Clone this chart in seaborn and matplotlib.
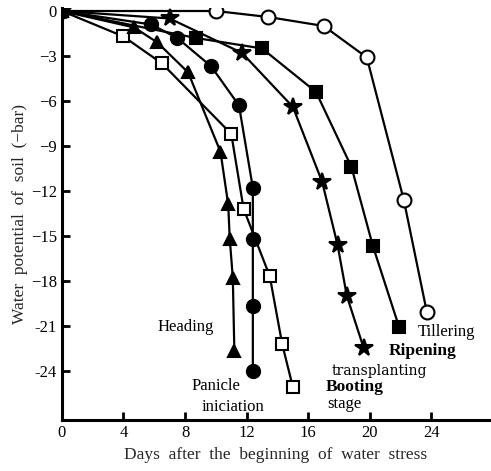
import matplotlib
matplotlib.use("Agg")
import matplotlib.pyplot as plt
import seaborn as sns
import pandas as pd

sns.set_theme(style="ticks")
plt.rcParams['font.family'] = ['Liberation Serif', 'DejaVu Serif']

# Data (days, water potential in bar)
tillering_x = [0, 10, 13.4, 17, 19.8, 22.2, 23.7]
tillering_y = [0, 0, -0.4, -1.0, -3.1, -12.6, -20.1]
ripening_x = [0, 8.7, 13, 16.5, 18.8, 20.2, 21.9]
ripening_y = [0, -1.8, -2.5, -5.4, -10.4, -15.7, -21.1]
transplant_x = [0, 7, 11.7, 15, 16.9, 17.9, 18.5, 19.6]
transplant_y = [0, -0.5, -2.8, -6.4, -11.4, -15.6, -19.0, -22.5]
booting_x = [0, 4, 6.5, 11, 11.8, 13.5, 14.3, 15]
booting_y = [0, -1.7, -3.5, -8.2, -13.2, -17.7, -22.2, -25.1]
panicle_x = [0, 5.8, 7.5, 9.7, 11.5, 12.4, 12.4, 12.4, 12.4]
panicle_y = [0, -0.9, -1.8, -3.7, -6.3, -11.8, -15.2, -19.7, -24.0]
heading_x = [0, 4.7, 6.2, 8.2, 10.3, 10.8, 10.9, 11.1, 11.2]
heading_y = [0, -1.1, -2.1, -4.1, -9.4, -12.9, -15.2, -17.8, -22.7]

x_ticks = [0, 4, 8, 12, 16, 20, 24]
y_ticks = [0, -3, -6, -9, -12, -15, -18, -21, -24]
y_ticklabels = ["0", "\u22123", "\u22126", "\u22129", "\u221212", "\u221215", "\u221218", "-21", "-24"]

series = [
    ("Tillering", tillering_x, tillering_y, "o", "white", 10),
    ("Ripening", ripening_x, ripening_y, "s", "black", 8.5),
    ("transplanting", transplant_x, transplant_y, "*", "black", 13),
    ("Booting", booting_x, booting_y, "s", "white", 8.5),
    ("Panicle", panicle_x, panicle_y, "o", "black", 9.5),
    ("Heading", heading_x, heading_y, "^", "black", 8),
]

fig = plt.figure(figsize=(4.91, 4.71), dpi=100)
ax = fig.add_axes([0.126, 0.108, 0.872, 0.875])

for name, xs, ys, mk, fc, ms in series:
    df = pd.DataFrame({"x": xs, "y": ys})
    sns.lineplot(data=df, x="x", y="y", ax=ax, sort=False, estimator=None,
                 color="black", linewidth=1.6, marker=mk, markersize=ms,
                 markerfacecolor=fc, markeredgecolor="black", markeredgewidth=1.5,
                 zorder=3)

ax.set_xlim(0, 27.8)
ax.set_ylim(-27.3, 0.2)
ax.set_xticks(x_ticks)
ax.set_xticklabels([str(v) for v in x_ticks])
ax.set_yticks(y_ticks)
ax.set_yticklabels(y_ticklabels)
ax.tick_params(direction="in", length=6, width=2, labelsize=12, colors="black")
for s in ["top", "right"]:
    ax.spines[s].set_visible(False)
for s in ["left", "bottom"]:
    ax.spines[s].set_linewidth(2.2)
    ax.spines[s].set_color("black")

ax.set_xlabel("Days  after  the  beginning  of  water  stress", fontsize=12.5, labelpad=4)
ax.set_ylabel("Water  potential  of  soil  (\u2212bar)", fontsize=12.5, labelpad=2)

tk = dict(fontsize=12, color="black", zorder=5)
bk = dict(fontsize=12.5, color="black", zorder=5, fontweight="semibold")
ax.text(6.2, -21.1, "Heading", ha="left", va="center", **tk)
ax.text(8.4, -25.0, "Panicle", ha="left", va="center", **tk)
ax.text(9.1, -26.4, "iniciation", ha="left", va="center", **tk)
ax.text(17.1, -25.1, "Booting", ha="left", va="center", **bk)
ax.text(17.2, -26.2, "stage", ha="left", va="center", **tk)
ax.text(17.5, -24.0, "transplanting", ha="left", va="center", fontsize=10,
        family=["DejaVu Serif"], color="black", zorder=5)
ax.text(21.2, -22.7, "Ripening", ha="left", va="center", **bk)
ax.text(23.1, -21.4, "Tillering", ha="left", va="center", **tk)

fig.savefig("out.png", dpi=100)
